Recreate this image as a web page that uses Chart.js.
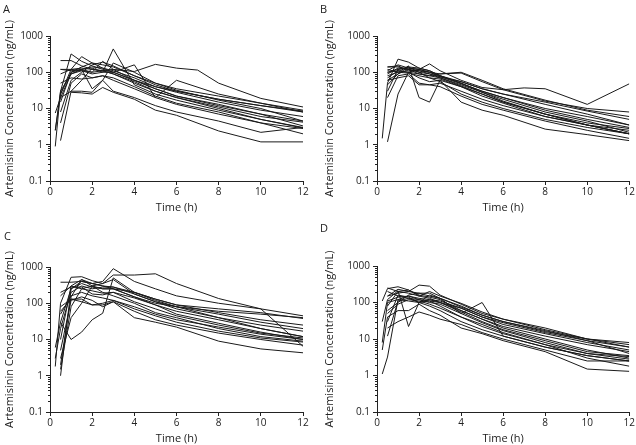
<!DOCTYPE html>
<html>
<head>
<meta charset="utf-8">
<script src="https://cdn.jsdelivr.net/npm/chart.js@4"></script>
<style>
  html, body { margin: 0; padding: 0; background: #fff; overflow: hidden; }
  #wrap { position: relative; width: 636px; height: 445px; }
  canvas { position: absolute; }
  .lbl { position: absolute; font-family: "Open Sans", sans-serif; font-size: 11px; color: #222; }
</style>
</head>
<body>
<div id="wrap">
  <canvas id="chartA" width="318" height="220" style="left:0;top:0"></canvas>
  <canvas id="chartB" width="318" height="220" style="left:318px;top:0"></canvas>
  <canvas id="chartC" width="318" height="223" style="left:0;top:222px"></canvas>
  <canvas id="chartD" width="318" height="223" style="left:318px;top:222px"></canvas>
  <div class="lbl" style="left:3px;top:1px">A</div>
  <div class="lbl" style="left:320px;top:1px">B</div>
  <div class="lbl" style="left:4px;top:228px">C</div>
  <div class="lbl" style="left:320px;top:220px">D</div>
</div>
<script>
// sampling times (h)
const times = [0.25, 0.5, 1, 1.5, 2, 2.5, 3, 4, 5, 6, 7, 8, 10, 12];

// artemisinin concentration (ng/mL) per subject, one row per subject
const panelA = [
    [null, 210, 210, 150, 120, 110, 90, 55, 30, 20, null, 11, 6, 4.2],
    [0.9, 30, 320, 200, 150, 120, 100, 60, 35, 22, null, 12, 7, 4.5],
    [2.5, 25, 120, 270, 180, 130, 100, 60, 40, 30, null, 18, 12, 8.5],
    [null, 1.3, 30, 60, 130, 100, 440, 45, 25, 17, null, 9, 5, 3.0],
    [null, 20, 90, 110, 90, 100, 100, 160, 20, 60, null, 25, 14, 8],
    [null, 120, 110, 120, 100, 110, 120, 105, 165, 130, 115, 50, 19, 11],
    [null, null, 28, 27, 25, 38, 28, 18, 9, 6.5, null, 2.4, 1.2, 1.2],
    [7.5, 20, 30, 30, 28, 60, 30, 20, 12, 8, null, 4.5, 2.2, 3.0],
    [null, 90, 120, 130, 120, 110, 90, 50, 30, 20, null, 10, 5, 2.9],
    [null, 120, 120, 110, 100, 200, 120, 60, 35, 22, null, 13, 7, 3.3],
    [null, 8, 60, 100, 160, 190, 150, 80, 45, 30, null, 18, 12, 8],
    [null, 25, 100, 120, 140, 130, 110, 70, 40, 28, null, 15, 9, 6],
    [null, 4, 50, 90, 70, 80, 60, 35, 20, 13, null, 7, 4, 2.8],
    [2.5, 30, 90, 120, 35, 60, 180, 100, 50, 32, null, 17, 10, 4.5],
    [null, 15, 100, 140, 180, 160, 140, 80, 50, 35, null, 22, 14, 9],
    [null, 50, 70, 65, 70, 80, 70, 40, 22, 14, null, 8, 4, 2.0]
];

const panelB = [
    [null, 140, 140, 120, 100, 90, 70, 45, 28, 18, null, 8, 4.5, 2.2],
    [1.5, 50, 230, 190, 130, 110, 80, 50, 30, 20, null, 9, 5, 3],
    [null, 1.2, 25, 100, 120, 100, 80, 55, 35, 25, null, 13, 7, 3.5],
    [null, 80, 100, 150, 20, 15, 60, 40, 25, 15, null, 7, 3.5, 2.0],
    [null, 100, 120, 130, 120, 170, 110, 60, 38, 33, 37, 35, 13, 48],
    [null, 140, 150, 110, 110, 100, 90, 100, 60, 35, null, 17, 9, 6],
    [null, 60, 90, 120, 90, 80, 90, 95, 55, 33, null, 16, 10, 8],
    [null, 30, 120, 140, 130, 110, 80, 50, 28, 16, null, 7, 3.5, 2.5],
    [null, 20, 80, 90, 50, 45, 50, 30, 18, 12, null, 6, 3.5, 2.0],
    [null, 100, 110, 100, 70, 55, 60, 15, 9, 6.5, null, 2.7, 1.9, 1.3],
    [null, 60, 70, 80, 45, 45, 40, 22, 13, 9, null, 4.5, 2.5, 1.5],
    [null, 90, 130, 120, 110, 90, 75, 48, 30, 20, null, 10, 6, 3.5],
    [null, 120, 100, 95, 80, 70, 65, 40, 22, 14, null, 6, 3.5, 2.0],
    [null, 110, 160, 130, 120, 100, 75, 55, 35, 25, null, 15, 8.5, 5],
    [null, 70, 110, 100, 90, 80, 70, 42, 25, 15, null, 7, 4, 2.8],
    [null, 45, 90, 140, 100, 70, 55, 25, 15, 10, null, 5, 3, 2]
];

const panelC = [
    [null, 380, 380, 400, 350, 300, 280, 200, 120, 80, null, 40, 20, 12],
    [1.8, 100, 520, 540, 420, 350, 600, 600, 650, 350, null, 135, 70, 6.5],
    [null, 1.0, 250, 400, 350, 400, 900, 400, 250, 160, null, 100, 70, 45],
    [6, 30, 10, 16, 35, 53, 500, 200, 130, 90, null, 70, 55, 38],
    [null, 2, 150, 450, 300, 250, 250, 150, 90, 50, null, 28, 16, 10],
    [null, 5, 120, 150, 120, 80, 110, 40, 30, 22, null, 9, 5.5, 4.3],
    [null, 160, 300, 450, 350, 300, 250, 200, 130, 90, null, 55, 35, 25],
    [null, 60, 130, 110, 90, 100, 120, 70, 45, 30, null, 17, 11, 8.5],
    [null, 1.5, 80, 250, 300, 200, 160, 100, 55, 40, null, 20, 12, 9],
    [3, 20, 200, 300, 250, 280, 280, 180, 110, 80, null, 50, 30, 20],
    [null, 10, 300, 250, 220, 190, 200, 110, 70, 45, null, 25, 15, 11],
    [null, 80, 130, 130, 90, 90, 110, 60, 35, 25, null, 15, 10, 7],
    [null, 3, 40, 100, 300, 350, 450, 180, 110, 70, null, 40, 25, 17],
    [null, 200, 280, 280, 180, 170, 200, 140, 90, 60, null, 35, 20, 12],
    [null, 50, 160, 200, 160, 140, 120, 80, 50, 35, null, 22, 14, 10],
    [null, 30, 250, 350, 280, 250, 250, 150, 100, 80, null, 60, 50, 40]
];

const panelD = [
    [null, 250, 200, 180, 150, 130, 100, 60, 35, 22, null, 12, 7, 4.5],
    [1.1, 3.2, 120, 150, 120, 100, 90, 50, 28, 17, null, 8, 4, 2.8],
    [110, 240, 270, 220, 160, 140, 120, 60, 35, 20, null, 10, 5, 3],
    [30, 120, 210, 22, 100, 110, 100, 55, 30, 18, null, 9, 4.5, 3.5],
    [null, 150, 180, 200, 300, 280, 160, 90, 50, 35, null, 18, 10, 8],
    [null, 12, 110, 130, 100, 160, 130, 50, 100, 12, null, 6, 3.5, 2.5],
    [5, 40, 60, 60, 90, 60, 45, 20, 14, 9, null, 4.5, 1.5, 1.3],
    [null, 200, 150, 130, 120, 110, 80, 40, 25, 15, null, 7, 3, 1.8],
    [null, 20, 30, 40, 55, 45, 35, 25, 15, 10, null, 5, 2.5, 2.5],
    [null, 80, 200, 220, 150, 200, 150, 95, 55, 35, null, 20, 10, 7],
    [8, 100, 120, 110, 100, 120, 100, 70, 40, 25, null, 14, 8, 5],
    [null, 60, 100, 160, 180, 180, 130, 80, 45, 30, null, 17, 9, 6],
    [null, 30, 160, 140, 100, 80, 60, 30, 18, 12, null, 6, 3.5, 2.5],
    [null, 110, 140, 150, 130, 120, 110, 70, 40, 28, null, 15, 9, 4],
    [null, 50, 90, 120, 110, 90, 70, 40, 22, 14, null, 7, 4, 3.3],
    [null, 150, 230, 200, 180, 150, 130, 75, 45, 30, null, 16, 10, 6]
];

const yMajor = [0.1, 1, 10, 100, 1000];
const xTicks = [0, 2, 4, 6, 8, 10, 12];

const FONT = '"Open Sans", sans-serif';

// small minor ticks on the log axis (2..9 of each decade)
const minorTicks = {
    id: 'minorTicks',
    afterDraw(chart) {
        const y = chart.scales.y;
        const ctx = chart.ctx;
        ctx.save();
        ctx.strokeStyle = '#222';
        ctx.lineWidth = 1;
        for (let e = -1; e < 3; e++) {
            for (let d = 2; d <= 9; d++) {
                const py = Math.round(y.getPixelForValue(d * Math.pow(10, e))) + 0.5;
                ctx.beginPath();
                ctx.moveTo(y.right - 2, py);
                ctx.lineTo(y.right, py);
                ctx.stroke();
            }
        }
        ctx.restore();
    }
};

function makePanel(id, rows, geo) {
    const datasets = rows.map(r => ({
        data: times.map((t, i) => ({ x: t, y: r[i] })).filter(p => p.y !== null),
        borderColor: '#1a1a1a',
        borderWidth: 1,
        pointRadius: 0,
        fill: false,
        tension: 0
    }));

    new Chart(document.getElementById(id), {
        type: 'line',
        data: { datasets: datasets },
        options: {
            responsive: false,
            animation: false,
            layout: { padding: { top: geo.top, right: geo.right, left: 0, bottom: 0 } },
            plugins: { legend: { display: false }, tooltip: { enabled: false } },
            scales: {
                x: {
                    type: 'linear',
                    min: 0,
                    max: 12,
                    afterBuildTicks: s => { s.ticks = xTicks.map(v => ({ value: v })); },
                    afterFit: s => { s.height = geo.xh; },
                    border: { display: true, color: '#222', width: 1 },
                    grid: { drawOnChartArea: false, drawTicks: true, tickLength: 4, color: '#222' },
                    ticks: { color: '#222', font: { family: FONT, size: 10 }, padding: 1, maxRotation: 0 },
                    title: { display: true, text: 'Time (h)', color: '#222',
                             font: { family: FONT, size: 11 }, padding: { top: 0, bottom: geo.xtp } }
                },
                y: {
                    type: 'logarithmic',
                    min: 0.1,
                    max: 1000,
                    afterBuildTicks: s => { s.ticks = yMajor.map(v => ({ value: v, major: true })); },
                    afterFit: s => { s.width = geo.yw; },
                    border: { display: true, color: '#222', width: 1 },
                    grid: { drawOnChartArea: false, drawTicks: true, tickLength: 4, color: '#222' },
                    ticks: { color: '#222', font: { family: FONT, size: 10 }, padding: 3,
                             callback: v => String(v) },
                    title: { display: true, text: 'Artemisinin Concentration (ng/mL)', color: '#222',
                             font: { family: FONT, size: 11 }, padding: { top: geo.ytp, bottom: 0 } }
                }
            }
        },
        plugins: [minorTicks]
    });
}

makePanel('chartA', panelA, { top: 36, right: 15, xh: 39, yw: 50, xtp: 5.5, ytp: 3.4 });
makePanel('chartB', panelB, { top: 36, right: 6, xh: 39, yw: 59, xtp: 5.5, ytp: 5.4 });
makePanel('chartC', panelC, { top: 45, right: 15, xh: 33, yw: 50, xtp: 0, ytp: 3.4 });
makePanel('chartD', panelD, { top: 44, right: 6, xh: 33, yw: 59, xtp: 0, ytp: 5.4 });
</script>
</body>
</html>
